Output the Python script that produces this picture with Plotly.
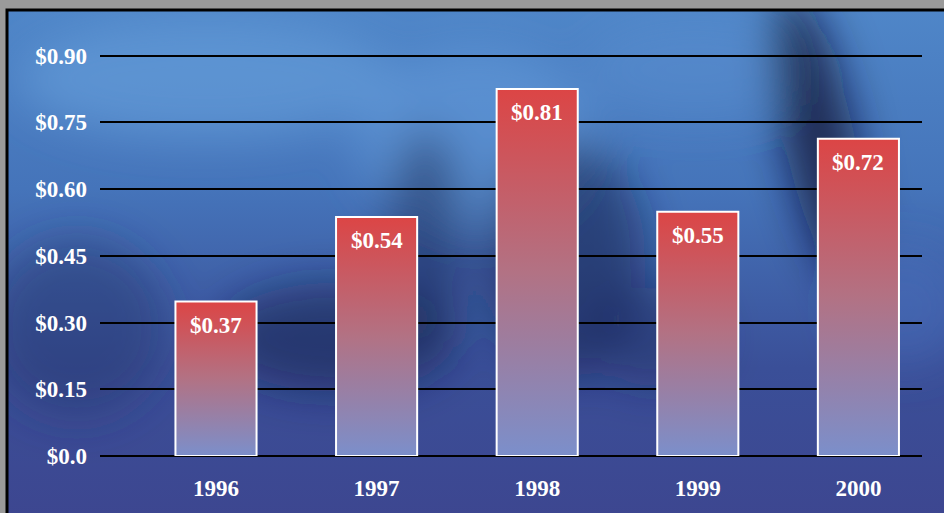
import base64
import plotly.graph_objects as go

# ---- data ----
years = ["1996", "1997", "1998", "1999", "2000"]
bar_heights = [0.347, 0.537, 0.825, 0.549, 0.713]
bar_labels = ["$0.37", "$0.54", "$0.81", "$0.55", "$0.72"]
ytick_vals = [0.0, 0.15, 0.30, 0.45, 0.60, 0.75, 0.90]
ytick_text = ["$0.0", "$0.15", "$0.30", "$0.45", "$0.60", "$0.75", "$0.90"]

W, H = 944, 513
ML, MR, MT, MB = 100, 22, 32, 55
PW, PH = W - ML - MR, H - MT - MB
BAR_W = 0.505
FONT = "Liberation Serif, Times New Roman, serif"

def px_to_paper_x(px):
    return (px - ML) / PW

def px_to_paper_y(py):
    return (H - MB - py) / PH

# background panel image (svg gradient)
svg = """<svg xmlns='http://www.w3.org/2000/svg' width='950' height='515' viewBox='0 0 950 515' preserveAspectRatio='none'>
<defs>
<linearGradient id='g' x1='0' y1='0' x2='0' y2='1'>
<stop offset='0' stop-color='#4f86c8'/>
<stop offset='0.35' stop-color='#4574ba'/>
<stop offset='0.7' stop-color='#3a4f98'/>
<stop offset='1' stop-color='#3d4690'/>
</linearGradient>
<filter id='b' x='-50%' y='-50%' width='200%' height='200%'><feGaussianBlur stdDeviation='22'/></filter>
</defs>
<rect width='950' height='515' fill='url(#g)'/>
<g filter='url(#b)'>
<ellipse cx='200' cy='70' rx='190' ry='60' fill='#6aa2de' opacity='0.55'/>
<ellipse cx='470' cy='130' rx='120' ry='90' fill='#6ca4e2' opacity='0.45'/>
<ellipse cx='690' cy='60' rx='110' ry='50' fill='#5d92d2' opacity='0.4'/>
<ellipse cx='815' cy='130' rx='35' ry='150' fill='#0c1430' opacity='0.75' transform='rotate(-12 815 130)'/>
<ellipse cx='330' cy='330' rx='120' ry='55' fill='#15204a' opacity='0.55'/>
<ellipse cx='560' cy='250' rx='80' ry='120' fill='#17224c' opacity='0.55'/>
<ellipse cx='420' cy='230' rx='40' ry='110' fill='#1a2552' opacity='0.5'/>
<ellipse cx='70' cy='320' rx='90' ry='90' fill='#22336a' opacity='0.45'/>
<ellipse cx='900' cy='300' rx='60' ry='60' fill='#4a70c0' opacity='0.4'/>
<ellipse cx='650' cy='330' rx='60' ry='50' fill='#1c2856' opacity='0.4'/>
</g>
</svg>"""
src = "data:image/svg+xml;base64," + base64.b64encode(svg.encode()).decode()

fig = go.Figure()

for i, (yr, h) in enumerate(zip(years, bar_heights)):
    x0, x1 = i - BAR_W / 2, i + BAR_W / 2
    fig.add_trace(go.Scatter(
        x=[x0, x1, x1, x0, x0], y=[0, 0, h, h, 0],
        mode="lines", fill="toself",
        fillgradient=dict(type="vertical",
                          colorscale=[[0, "#7b8fcb"], [0.5, "#b27284"], [1, "#dc4545"]]),
        line=dict(color="white", width=2),
        hoverinfo="skip", showlegend=False,
    ))
    fig.add_annotation(
        x=i, y=h, text=bar_labels[i], showarrow=False,
        yanchor="top", yshift=-9,
        font=dict(family=FONT, size=23, color="white", weight="bold"),
    )

fig.update_layout(
    width=W, height=H,
    margin=dict(l=ML, r=MR, t=MT, b=MB),
    paper_bgcolor="#9a9a9a",
    plot_bgcolor="rgba(0,0,0,0)",
    showlegend=False,
    xaxis=dict(
        range=[-0.7223, 4.396],
        tickvals=list(range(len(years))), ticktext=years,
        showgrid=False, zeroline=False, showline=False,
        ticks="", ticklabelstandoff=16,
        tickfont=dict(family=FONT, size=23, color="white", weight="bold"),
        fixedrange=True,
    ),
    yaxis=dict(
        range=[0, PH / 447.0],
        tickvals=ytick_vals, ticktext=ytick_text,
        showgrid=True, gridcolor="black", gridwidth=1.5,
        zeroline=True, zerolinecolor="black", zerolinewidth=1.5,
        showline=False, ticks="", ticklabelstandoff=12,
        tickfont=dict(family=FONT, size=23, color="white", weight="bold"),
        fixedrange=True,
    ),
    images=[dict(
        source=src, xref="paper", yref="paper",
        x=px_to_paper_x(7), y=px_to_paper_y(10),
        sizex=px_to_paper_x(W + 10) - px_to_paper_x(7),
        sizey=px_to_paper_y(10) - px_to_paper_y(H + 10),
        sizing="stretch", xanchor="left", yanchor="top", layer="below",
    )],
    shapes=[dict(
        type="rect", xref="paper", yref="paper",
        x0=px_to_paper_x(7), x1=px_to_paper_x(W + 15),
        y0=px_to_paper_y(H + 15), y1=px_to_paper_y(10),
        line=dict(color="black", width=3), fillcolor="rgba(0,0,0,0)",
        layer="below",
    )],
)

fig.write_html("out.html")
